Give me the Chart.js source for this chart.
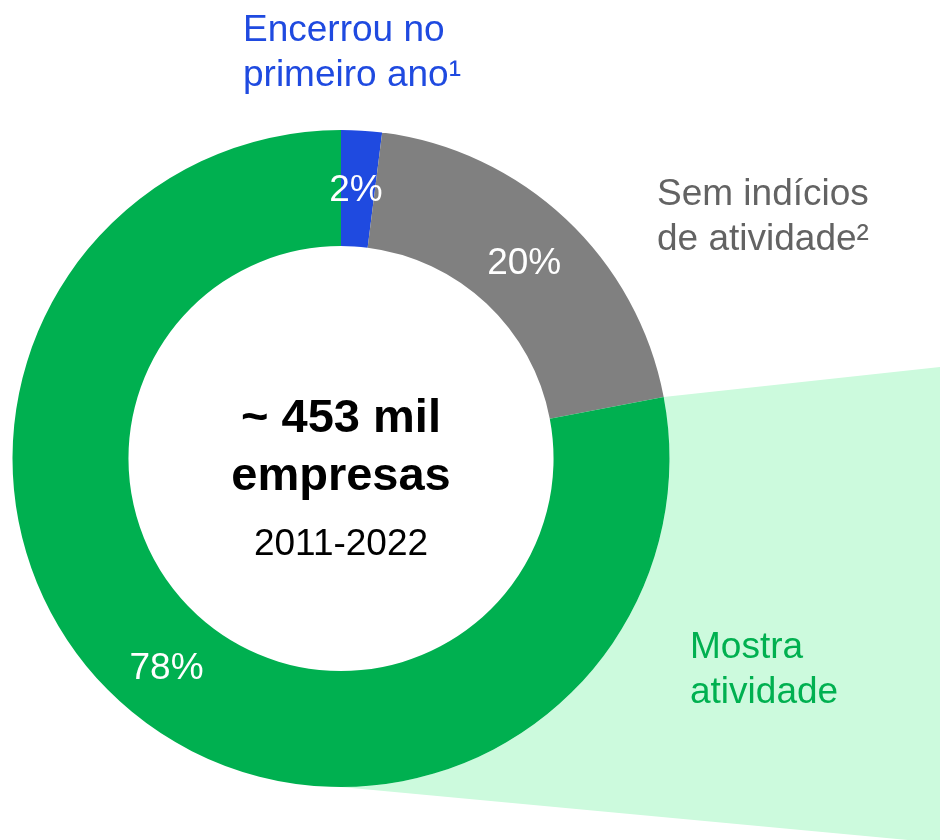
<!DOCTYPE html>
<html>
<head>
<meta charset="utf-8">
<script src="https://cdn.jsdelivr.net/npm/chart.js@4.4.1/dist/chart.umd.min.js"></script>
<style>
  html, body { margin: 0; padding: 0; background: #ffffff; }
  #wrap { position: relative; width: 940px; height: 840px; }
</style>
</head>
<body>
<div id="wrap"><canvas id="donutChart"></canvas></div>
<script>
// data
const categories = ["Encerrou no primeiro ano", "Sem indícios de atividade", "Mostra atividade"];
const shares = [2, 20, 78];
const shareLabels = ["2%", "20%", "78%"];
const sliceColors = ["#1f4ae0", "#808080", "#00b050"];
const calloutLines = [
  ["Encerrou no", "primeiro ano¹"],
  ["Sem indícios", "de atividade²"],
  ["Mostra", "atividade"]
];
const calloutColors = ["#1f4ae0", "#636363", "#00b050"];
const centerTitle = ["~ 453 mil", "empresas"];
const centerPeriod = "2011-2022";

const FONT = "'Liberation Sans', Arial, sans-serif";

// light green wedge that opens from the "Mostra atividade" slice to the right
const zoomWedge = {
  id: "zoomWedge",
  beforeDatasetsDraw(chart) {
    const arc = chart.getDatasetMeta(0).data[2];
    const ctx = chart.ctx;
    const r = arc.outerRadius;
    const ax = arc.x + r * Math.cos(arc.startAngle);
    const ay = arc.y + r * Math.sin(arc.startAngle);
    const w = chart.width;
    ctx.save();
    ctx.fillStyle = "#ccfadd";
    ctx.beginPath();
    ctx.moveTo(ax, ay);
    ctx.lineTo(w, ay - 30);
    ctx.lineTo(w, arc.y + r + 56);
    ctx.lineTo(arc.x, arc.y + r);
    ctx.arc(arc.x, arc.y, r, Math.PI / 2, arc.startAngle, true);
    ctx.closePath();
    ctx.fill();
    ctx.restore();
  }
};

// percentages inside the ring, centre text and the callout labels
const ringText = {
  id: "ringText",
  afterDraw(chart) {
    const ctx = chart.ctx;
    const meta = chart.getDatasetMeta(0);
    ctx.save();
    ctx.textAlign = "center";
    ctx.textBaseline = "middle";
    ctx.fillStyle = "#ffffff";
    ctx.font = "37px " + FONT;
    meta.data.forEach((arc, i) => {
      const mid = (arc.startAngle + arc.endAngle) / 2;
      const rr = (arc.innerRadius + arc.outerRadius) / 2;
      ctx.fillText(shareLabels[i], arc.x + rr * Math.cos(mid) - 2, arc.y + rr * Math.sin(mid) + 2);
    });

    const cx = meta.data[0].x;
    const cy = meta.data[0].y;
    ctx.fillStyle = "#000000";
    ctx.font = "bold 47px " + FONT;
    ctx.fillText(centerTitle[0], cx, cy - 39);
    ctx.fillText(centerTitle[1], cx, cy + 19);
    ctx.font = "37px " + FONT;
    ctx.fillText(centerPeriod, cx, cy + 86);

    // callouts
    const spots = [
      { x: 243, y: 31 },
      { x: 657, y: 195 },
      { x: 690, y: 648 }
    ];
    ctx.textAlign = "left";
    ctx.font = "37px " + FONT;
    calloutLines.forEach((lines, i) => {
      ctx.fillStyle = calloutColors[i];
      lines.forEach((txt, j) => {
        ctx.fillText(txt, spots[i].x, spots[i].y + j * 45);
      });
    });
    ctx.restore();
  }
};

new Chart(document.getElementById("donutChart"), {
  type: "doughnut",
  data: {
    labels: categories,
    datasets: [{
      data: shares,
      backgroundColor: sliceColors,
      borderWidth: 0,
      hoverOffset: 0
    }]
  },
  options: {
    responsive: true,
    maintainAspectRatio: false,
    animation: false,
    cutout: "64.7%",
    layout: { padding: { left: 12, right: 270, top: 130, bottom: 53 } },
    plugins: {
      legend: { display: false },
      tooltip: { enabled: false }
    },
    events: []
  },
  plugins: [zoomWedge, ringText]
});
</script>
</body>
</html>
